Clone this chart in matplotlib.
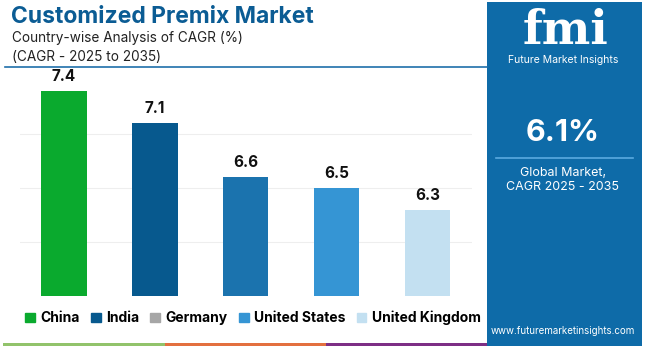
import matplotlib.pyplot as plt
from matplotlib.patches import Rectangle
from matplotlib.lines import Line2D

countries = ["China", "India", "Germany", "United States", "United Kingdom"]
cagr = [7.4, 7.1, 6.6, 6.5, 6.3]
bar_colors = ["#0AAA2E", "#07598E", "#1B73AE", "#3595D4", "#C3E0F1"]
legend_colors = ["#0AAA2E", "#07598E", "#A6A6A6", "#3595D4", "#C3E0F1"]
global_cagr = "6.1%"

W, H = 650, 346
fig = plt.figure(figsize=(W / 100, H / 100), dpi=100)
fig.patch.set_facecolor("white")
font = "Inter"

def px(x, y):
    return x / W, 1 - y / H

# bar chart area
ax = fig.add_axes([20 / W, (H - 296) / H, (472 - 20) / W, (296 - 80) / H])
x = range(len(countries))
ax.bar(x, cagr, width=0.5, color=bar_colors, zorder=3)
ax.set_ylim(5.5, 7.5)
ax.set_xlim(-0.484, 4.49)
ax.set_yticks([6.0, 6.5, 7.0])
ax.grid(axis="y", color="#EEEEEE", linewidth=0.8, zorder=0)
ax.tick_params(left=False, bottom=False, labelleft=False, labelbottom=False)
for s in ax.spines.values():
    s.set_visible(False)
for i, v in enumerate(cagr):
    ax.annotate(f"{v}", (i, v), xytext=(0, 5), textcoords="offset points",
                ha="center", va="bottom", fontsize=11, fontweight="bold",
                family=font, color="#111111")

# titles
fig.text(*px(11, 17), "Customized Premix Market", fontsize=16.5, fontweight="bold",
         color="#0B5C94", family=font, va="center")
fig.text(*px(12, 38), "Country-wise Analysis of CAGR (%)", fontsize=9.8,
         color="#222222", family=font, va="center")
fig.text(*px(12, 57), "(CAGR - 2025 to 2035)", fontsize=9.8,
         color="#222222", family=font, va="center")
fig.add_artist(Line2D([5 / W, 487 / W], [1 - 67 / H] * 2, color="#1F6FAA", lw=1.2))

# legend
handles = [Rectangle((0, 0), 1, 1, color=c) for c in legend_colors]
fig.legend(handles, countries, loc="center", bbox_to_anchor=(253 / W, 1 - 318 / H),
           ncol=5, frameon=False, handlelength=0.7, handleheight=0.7,
           handletextpad=0.4, columnspacing=0.8,
           prop={"family": font, "weight": "bold", "size": 10})

# bottom stripes
for x0, x1, c in [(3, 165, "#92C36B"), (165, 326, "#E3703F"), (326, 487, "#7D2F85")]:
    fig.add_artist(Rectangle((x0 / W, 0), (x1 - x0) / W, 3 / H, color=c, lw=0))

# right panel
fig.add_artist(Rectangle((487 / W, 0), (642 - 487) / W, (H - 2) / H, color="#0E6BA8", lw=0))
fig.text(*px(565, 31), "fmi", fontsize=33, fontweight="bold", color="white",
         family="DejaVu Serif", ha="center", va="center")
for yy in range(16, 50, 4):
    fig.add_artist(Line2D([515 / W, 615 / W], [1 - yy / H] * 2, color="#0E6BA8", lw=0.8))
fig.text(*px(563, 60), "Future Market Insights", fontsize=7.5, color="white",
         family=font, ha="center", va="center")
fig.text(*px(563, 133), global_cagr, fontsize=22, fontweight="bold", color="white",
         family=font, ha="center", va="center")
fig.add_artist(Line2D([496 / W, 633 / W], [1 - 158 / H] * 2, color="#5AAAE0", lw=1.2))
fig.text(*px(563, 173), "Global Market,", fontsize=9, color="white",
         family=font, ha="center", va="center")
fig.text(*px(563, 187), "CAGR 2025 - 2035", fontsize=9, color="white",
         family=font, ha="center", va="center")
fig.text(*px(563, 331), "www.futuremarketinsights.com", fontsize=7, color="white",
         family=font, ha="center", va="center")

fig.savefig("out.png", dpi=100)
